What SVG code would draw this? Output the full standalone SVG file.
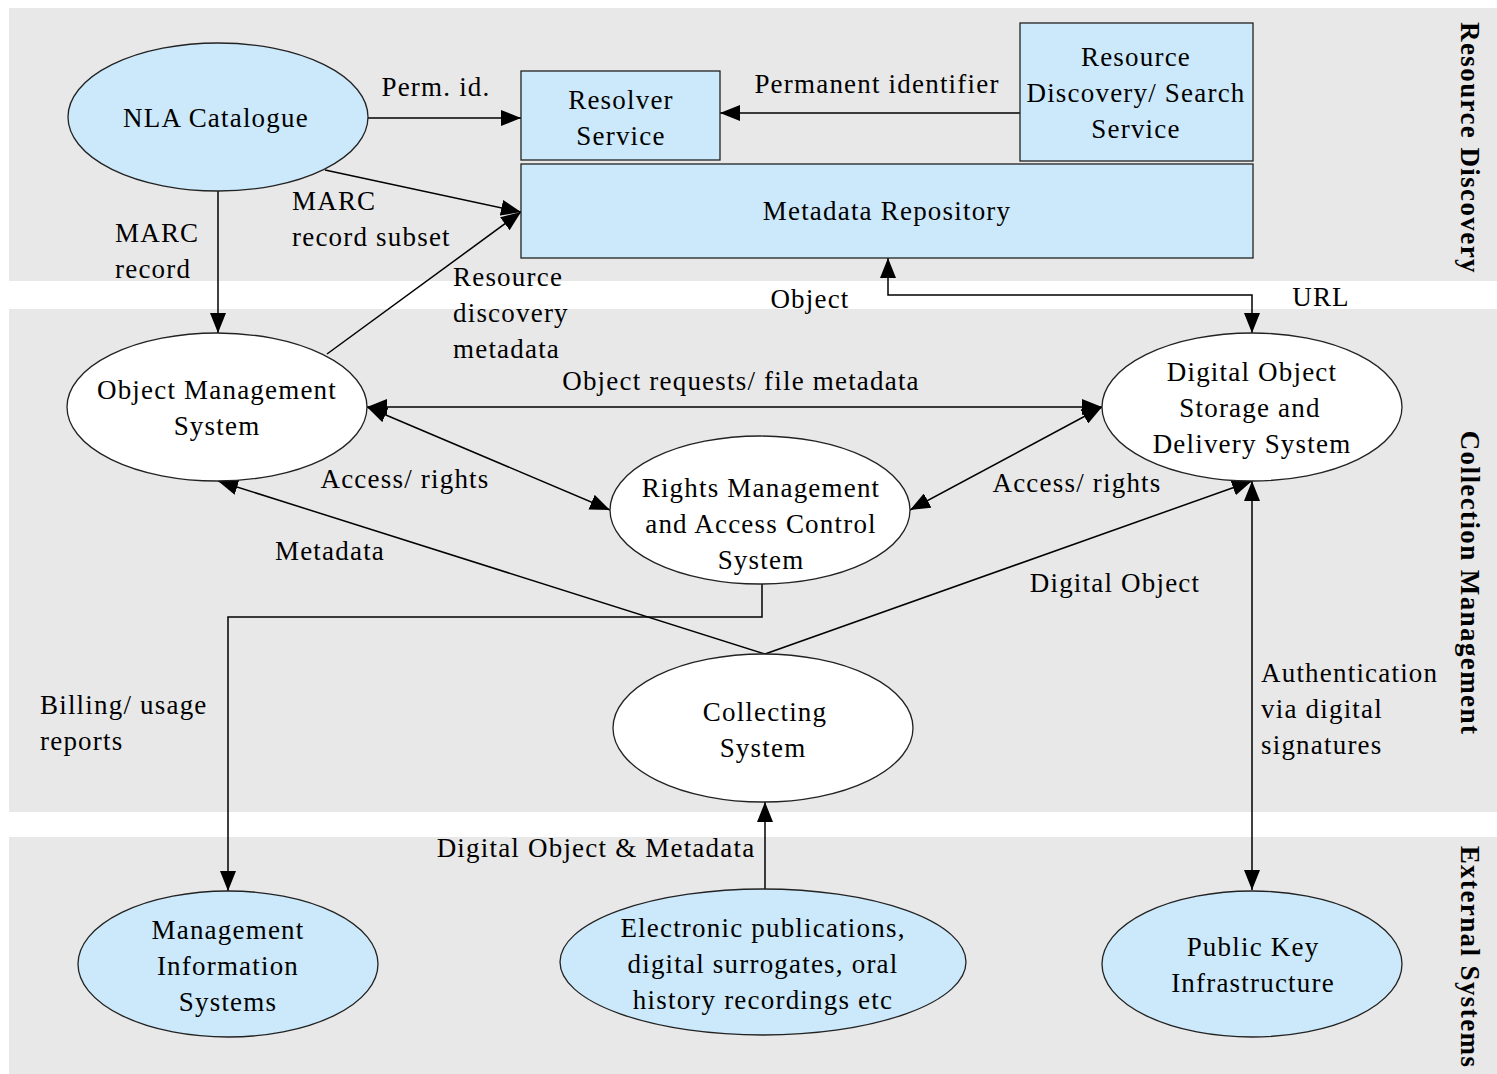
<svg xmlns="http://www.w3.org/2000/svg" width="1497" height="1074" viewBox="0 0 1497 1074">
<style>
.t{font-family:"Liberation Serif","Times New Roman",serif;font-size:27px;letter-spacing:1.2px;fill:#000}
.m{text-anchor:middle}
.b{font-family:"Liberation Serif","Times New Roman",serif;font-size:27px;font-weight:bold;letter-spacing:1.4px;text-anchor:middle;fill:#000}
.band{fill:#e8e8e8}
.blue{fill:#cce9fb;stroke:#222;stroke-width:1.3}
.white{fill:#fff;stroke:#222;stroke-width:1.3}
.c{fill:none;stroke:#000;stroke-width:1.5}
</style>
<defs>
<marker id="ah" markerUnits="userSpaceOnUse" markerWidth="20" markerHeight="16" refX="20" refY="8" orient="auto-start-reverse" viewBox="0 0 20 16">
<path d="M0,0 L20,8 L0,16 z" fill="#000"/>
</marker>
</defs>
<rect width="1497" height="1074" fill="#fff"/>
<g id="bands">
<rect class="band" x="9" y="8" width="1488" height="273"/>
<rect class="band" x="9" y="309" width="1488" height="503"/>
<rect class="band" x="9" y="837" width="1488" height="237"/>
<text class="b" transform="translate(1461,148) rotate(90)">Resource Discovery</text>
<text class="b" transform="translate(1461,583) rotate(90)">Collection Management</text>
<text class="b" transform="translate(1461,957) rotate(90)">External Systems</text>
</g>
<g id="connectors">
<path class="c" d="M368,118 L521,118" marker-end="url(#ah)"/>
<path class="c" d="M1020,113 L720,113" marker-end="url(#ah)"/>
<path class="c" d="M325,170 L521,212" marker-end="url(#ah)"/>
<path class="c" d="M327,354 L521,212" marker-end="url(#ah)"/>
<path class="c" d="M218,191 L218,333" marker-end="url(#ah)"/>
<path class="c" d="M888,258 L888,295 L1252,295 L1252,333" marker-start="url(#ah)" marker-end="url(#ah)"/>
<path class="c" d="M367,407 L1102,407" marker-start="url(#ah)" marker-end="url(#ah)"/>
<path class="c" d="M367,407 L610,510" marker-start="url(#ah)" marker-end="url(#ah)"/>
<path class="c" d="M1102,407 L910,510" marker-start="url(#ah)" marker-end="url(#ah)"/>
<path class="c" d="M765,654 L218,481" marker-end="url(#ah)"/>
<path class="c" d="M765,654 L1252,481" marker-end="url(#ah)"/>
<path class="c" d="M762,584 L762,617 L228,617 L228,891" marker-end="url(#ah)"/>
<path class="c" d="M765,889 L765,802" marker-end="url(#ah)"/>
<path class="c" d="M1252,481 L1252,890" marker-start="url(#ah)" marker-end="url(#ah)"/>
<text class="t m" x="436" y="96">Perm. id.</text>
<text class="t m" x="877" y="93">Permanent identifier</text>
<text class="t" x="292" y="210">MARC</text>
<text class="t" x="292" y="246">record subset</text>
<text class="t" x="115" y="242">MARC</text>
<text class="t" x="115" y="278">record</text>
<text class="t" x="453" y="286">Resource</text>
<text class="t" x="453" y="322">discovery</text>
<text class="t" x="453" y="358">metadata</text>
<text class="t m" x="810" y="308">Object</text>
<text class="t m" x="1321" y="306">URL</text>
<text class="t m" x="741" y="390">Object requests/ file metadata</text>
<text class="t m" x="405" y="488">Access/ rights</text>
<text class="t m" x="1077" y="492">Access/ rights</text>
<text class="t m" x="330" y="560">Metadata</text>
<text class="t m" x="1115" y="592">Digital Object</text>
<text class="t" x="40" y="714">Billing/ usage</text>
<text class="t" x="40" y="750">reports</text>
<text class="t" x="1261" y="682">Authentication</text>
<text class="t" x="1261" y="718">via digital</text>
<text class="t" x="1261" y="754">signatures</text>
<text class="t m" x="596" y="857">Digital Object &amp; Metadata</text>
</g>
<g id="nla">
<ellipse class="blue" cx="218" cy="117" rx="150" ry="74"/>
<text class="t m" x="216" y="127">NLA Catalogue</text>
</g>
<g id="resolver">
<rect class="blue" x="521" y="71" width="199" height="89"/>
<text class="t m" x="621" y="109">Resolver</text>
<text class="t m" x="621" y="145">Service</text>
</g>
<g id="search">
<rect class="blue" x="1020" y="23" width="233" height="138"/>
<text class="t m" x="1136" y="66">Resource</text>
<text class="t m" x="1136" y="102">Discovery/ Search</text>
<text class="t m" x="1136" y="138">Service</text>
</g>
<g id="repository">
<rect class="blue" x="521" y="164" width="732" height="94"/>
<text class="t m" x="887" y="220">Metadata Repository</text>
</g>
<g id="oms">
<ellipse class="white" cx="217" cy="407" rx="150" ry="74"/>
<text class="t m" x="217" y="399">Object Management</text>
<text class="t m" x="217" y="435">System</text>
</g>
<g id="dosds">
<ellipse class="white" cx="1252" cy="407" rx="150" ry="74"/>
<text class="t m" x="1252" y="381">Digital Object</text>
<text class="t m" x="1250" y="417">Storage and</text>
<text class="t m" x="1252" y="453">Delivery System</text>
</g>
<g id="rights">
<ellipse class="white" cx="760" cy="510" rx="150" ry="74"/>
<text class="t m" x="761" y="497">Rights Management</text>
<text class="t m" x="761" y="533">and Access Control</text>
<text class="t m" x="761" y="569">System</text>
</g>
<g id="collecting">
<ellipse class="white" cx="763" cy="728" rx="150" ry="74"/>
<text class="t m" x="765" y="721">Collecting</text>
<text class="t m" x="763" y="757">System</text>
</g>
<g id="mis">
<ellipse class="blue" cx="228" cy="964" rx="150" ry="73"/>
<text class="t m" x="228" y="939">Management</text>
<text class="t m" x="228" y="975">Information</text>
<text class="t m" x="228" y="1011">Systems</text>
</g>
<g id="epubs">
<ellipse class="blue" cx="763" cy="962" rx="203" ry="73"/>
<text class="t m" x="763" y="937">Electronic publications,</text>
<text class="t m" x="763" y="973">digital surrogates, oral</text>
<text class="t m" x="763" y="1009">history recordings etc</text>
</g>
<g id="pki">
<ellipse class="blue" cx="1252" cy="964" rx="150" ry="73"/>
<text class="t m" x="1253" y="956">Public Key</text>
<text class="t m" x="1253" y="992">Infrastructure</text>
</g>
</svg>
